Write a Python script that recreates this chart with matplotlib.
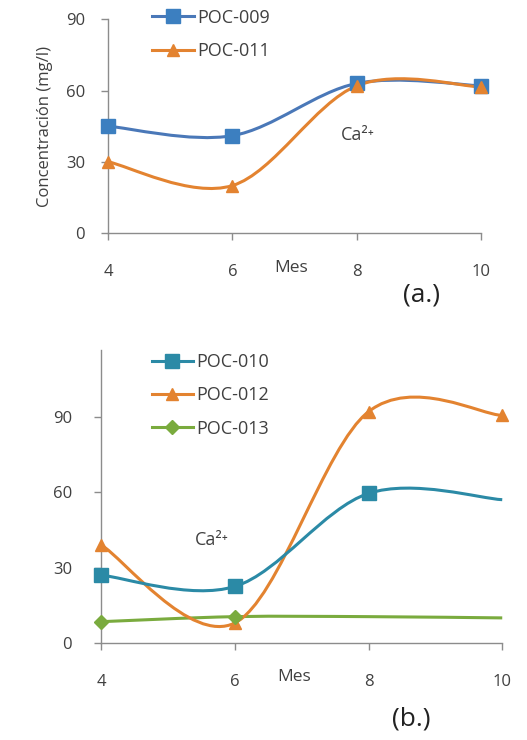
import numpy as np
import matplotlib.pyplot as plt
from matplotlib.path import Path
from matplotlib.patches import PathPatch
from matplotlib.lines import Line2D

plt.rcParams['font.family'] = ['Open Sans', 'DejaVu Sans']

meses = [4, 6, 8, 10]

# (a.)
poc_009 = [45, 41, 63, 62]
poc_011 = [30, 20, 62, 61.5]

# (b.)
poc_010 = [27, 22.5, 59.5, 57]
poc_012 = [39, 8, 92, 90.5]
poc_013 = [8.5, 10.5, 10.5, 10]

azul = '#3c7fc0'
naranja = '#e38330'
teal = '#2b8aa6'
verde = '#7aab3e'
gris = '#8c8c8c'
texto = '#404040'


def curva(ax, x, y, color, lw=2.2):
    # smooth line like excel (catmull-rom as bezier)
    p = np.column_stack([x, y]).astype(float)
    n = len(p)
    verts = [p[0]]
    codes = [Path.MOVETO]
    for i in range(n - 1):
        p0 = p[i - 1] if i > 0 else p[i]
        p3 = p[i + 2] if i + 2 < n else p[i + 1]
        c1 = p[i] + (p[i + 1] - p0) / 6
        c2 = p[i + 1] - (p3 - p[i]) / 6
        verts += [c1, c2, p[i + 1]]
        codes += [Path.CURVE4] * 3
    ax.add_patch(PathPatch(Path(verts, codes), fill=False, edgecolor=color,
                           lw=lw, clip_on=False, zorder=2))


def estilo(ax, ylim, ypad):
    for s in ['top', 'right']:
        ax.spines[s].set_visible(False)
    for s in ['left', 'bottom']:
        ax.spines[s].set_color(gris)
        ax.spines[s].set_linewidth(1)
    ax.set_xlim(4, 10)
    ax.set_ylim(*ylim)
    ax.set_xticks(meses)
    ax.set_yticks([0, 30, 60, 90])
    ax.tick_params(axis='both', colors=gris, labelcolor=texto, labelsize=12,
                   length=5, width=1)
    ax.tick_params(axis='x', pad=17)
    ax.tick_params(axis='y', pad=ypad)


fig = plt.figure(figsize=(5.27, 7.40), dpi=100)

# ---- panel a
ax1 = fig.add_axes([0.205, 0.685, 0.708, 0.289])
estilo(ax1, (0, 90), 11.5)
curva(ax1, meses, poc_009, '#4a78b8')
curva(ax1, meses, poc_011, naranja)
ax1.plot(meses, poc_009, 's', color=azul, ms=10, clip_on=False, zorder=3)
ax1.plot(meses, poc_011, '^', color=naranja, ms=9, clip_on=False, zorder=3)
ax1.set_ylabel('Concentración (mg/l)', color=texto, fontsize=12, labelpad=9)
ax1.text(7.75, 39, 'Ca²⁺', color=texto, fontsize=13)
ax1.text(0.49, -0.165, 'Mes', transform=ax1.transAxes, color=texto,
         fontsize=12.5, ha='center', va='center')
fig.text(0.80, 0.602, '(a.)', color='#222222', fontsize=19, ha='center', va='center')
h1 = [Line2D([], [], color='#4a78b8', lw=2.2, marker='s', ms=10, mfc=azul, mec=azul),
      Line2D([], [], color=naranja, lw=2.2, marker='^', ms=9)]
ax1.legend(h1, ['POC-009', 'POC-011'], loc='upper left', bbox_to_anchor=(0.075, 1.125),
           frameon=False, fontsize=13, handlelength=2.3, handletextpad=0.2,
           labelspacing=0.85, labelcolor=texto)

# ---- panel b
ax2 = fig.add_axes([0.192, 0.131, 0.761, 0.396])
estilo(ax2, (0, 116.5), 16)
curva(ax2, meses, poc_013, verde)
curva(ax2, meses, poc_012, naranja)
curva(ax2, meses, poc_010, teal)
ax2.plot(meses[:3], poc_010[:3], 's', color=teal, ms=10, clip_on=False, zorder=3)
ax2.plot(meses, poc_012, '^', color=naranja, ms=9, clip_on=False, zorder=3)
ax2.plot(meses[:2], poc_013[:2], 'D', color=verde, ms=7, clip_on=False, zorder=3)
ax2.text(5.4, 39, 'Ca²⁺', color=texto, fontsize=13)
ax2.text(0.48, -0.115, 'Mes', transform=ax2.transAxes, color=texto,
         fontsize=12.5, ha='center', va='center')
fig.text(0.78, 0.029, '(b.)', color='#222222', fontsize=19, ha='center', va='center')
h2 = [Line2D([], [], color=teal, lw=2.2, marker='s', ms=10),
      Line2D([], [], color=naranja, lw=2.2, marker='^', ms=9),
      Line2D([], [], color=verde, lw=2.2, marker='D', ms=7)]
ax2.legend(h2, ['POC-010', 'POC-012', 'POC-013'], loc='upper left',
           bbox_to_anchor=(0.085, 1.045), frameon=False, fontsize=13,
           handlelength=2.3, handletextpad=0.2, labelspacing=0.85, labelcolor=texto)

fig.savefig('out.png', dpi=100)
